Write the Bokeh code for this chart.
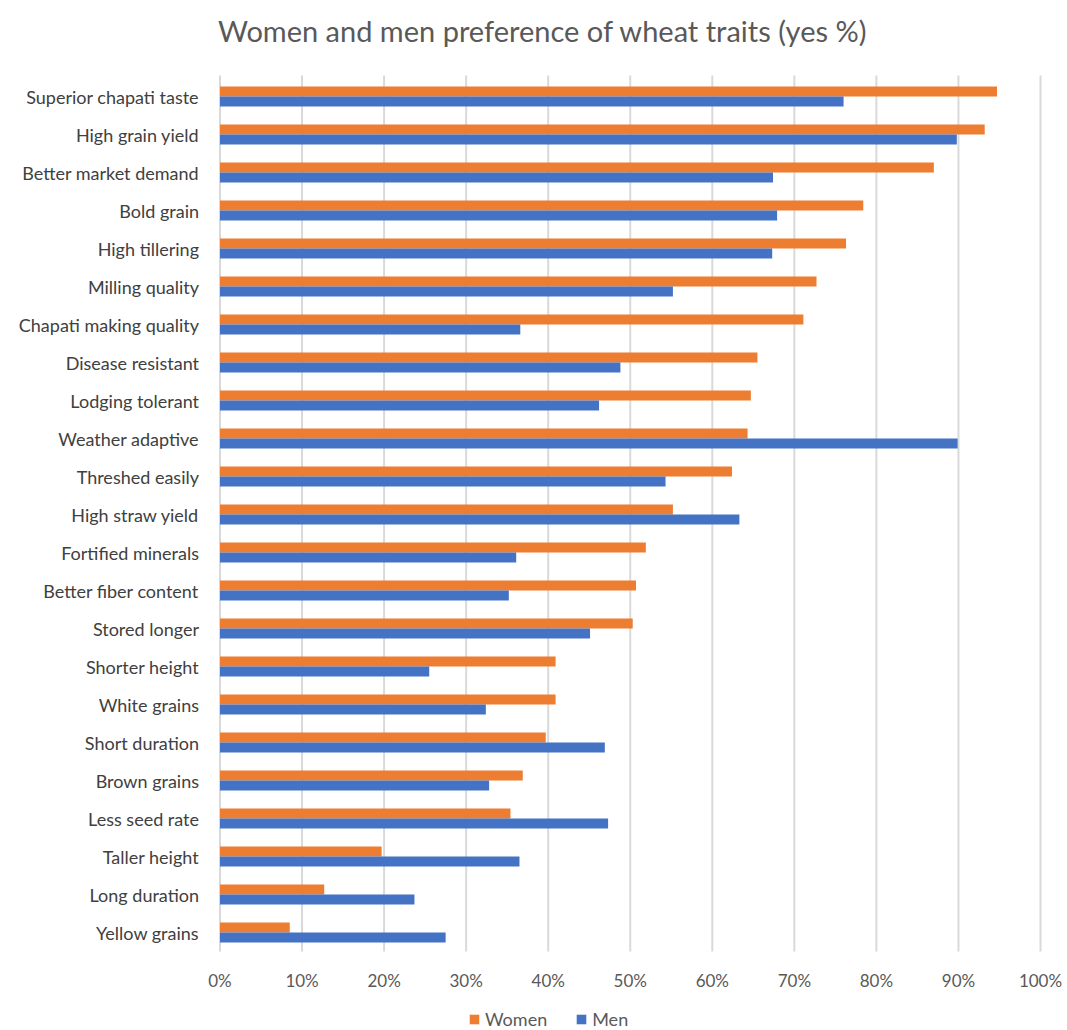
from bokeh.plotting import figure
from bokeh.models import Range1d, ColumnDataSource, Legend, LegendItem
from bokeh.core.properties import value
from bokeh.transform import dodge
from bokeh.embed import file_html
from bokeh.resources import INLINE

title_text = "Women and men preference of wheat traits (yes %)"
traits = ["Superior chapati taste", "High grain yield", "Better market demand", "Bold grain",
          "High tillering", "Milling quality", "Chapati making quality", "Disease resistant",
          "Lodging tolerant", "Weather adaptive", "Threshed easily", "High straw yield",
          "Fortified minerals", "Better fiber content", "Stored longer", "Shorter height",
          "White grains", "Short duration", "Brown grains", "Less seed rate", "Taller height",
          "Long duration", "Yellow grains"]
women = [0.947, 0.932, 0.870, 0.784, 0.763, 0.727, 0.711, 0.655, 0.647, 0.643, 0.624, 0.552,
         0.519, 0.507, 0.503, 0.409, 0.409, 0.397, 0.369, 0.354, 0.197, 0.127, 0.085]
men = [0.760, 0.898, 0.674, 0.679, 0.673, 0.552, 0.366, 0.488, 0.462, 0.899, 0.543, 0.633,
       0.361, 0.352, 0.451, 0.255, 0.324, 0.469, 0.328, 0.473, 0.365, 0.237, 0.275]
x_ticks = [0, 0.1, 0.2, 0.3, 0.4, 0.5, 0.6, 0.7, 0.8, 0.9, 1.0]
x_tick_labels = ["0%", "10%", "20%", "30%", "40%", "50%", "60%", "70%", "80%", "90%", "100%"]

n = len(traits)
ypos = [n - 1 - i for i in range(n)]          # top row first
src = ColumnDataSource(dict(trait=traits, women=women, men=men, y=ypos))

FONT = "Lato"
W, H = 1067, 1030
ROW_PX = 38.0            # height of one category band in pixels
TOP_PX, BOT_PX = 77, 79  # space above / below the band area
LEFT_PX, RIGHT_PX = 219.5, 27
UNIT_PX = (W - LEFT_PX - RIGHT_PX)  # pixels for 100 %
y_top = (n - 0.5) + TOP_PX / ROW_PX
y_bot = -0.5 - BOT_PX / ROW_PX
x_start = -LEFT_PX / UNIT_PX
x_end = 1.0 + RIGHT_PX / UNIT_PX

p = figure(width=W, height=H, x_range=Range1d(x_start, x_end), y_range=Range1d(y_bot, y_top),
           output_backend="svg", toolbar_location=None, x_axis_location=None, y_axis_location=None,
           min_border_left=0, min_border_right=0, min_border_top=0, min_border_bottom=0)
p.title.visible = False

# vertical gridlines over the band area only
grid_src = ColumnDataSource(dict(x=x_ticks))
p.segment(x0="x", x1="x", y0=-0.5, y1=n - 0.5 + 2 / ROW_PX, source=grid_src,
          line_color="#d9d9d9", line_width=2)

rw = p.hbar(y=dodge("y", 0.13), right="women", left=0, height=0.26,
            source=src, color="#ED7D31", line_color=None)
rm = p.hbar(y=dodge("y", -0.13), right="men", left=0, height=0.26,
            source=src, color="#4472C4", line_color=None)

# category labels
p.text(x=0, y="y", text="trait", source=src, x_offset=-21, text_align="right",
       text_baseline="middle", text_font=value(FONT), text_font_size=value("18px"),
       text_color="#404040")

# x tick labels
tick_src = ColumnDataSource(dict(x=x_ticks, t=x_tick_labels))
p.text(x="x", y=-0.5 - 29 / ROW_PX, text="t", source=tick_src, text_align="center",
       text_baseline="middle", text_font=value(FONT), text_font_size=value("17px"),
       text_color="#595959")

# title
p.text(x=[0], y=[n - 0.5 + (TOP_PX - 30) / ROW_PX], text=[title_text], x_offset=-2,
       text_align="left", text_baseline="middle", text_font=value(FONT),
       text_font_size=value("29px"), text_color="#595959")

p.xgrid.visible = False
p.ygrid.visible = False
p.outline_line_color = None

legend = Legend(items=[LegendItem(label="Women", renderers=[rw]), LegendItem(label="Men", renderers=[rm])],
                orientation="horizontal", location=(468, 0), glyph_width=12, glyph_height=12,
                label_text_font=FONT, label_text_font_size="18px", label_text_color="#595959",
                border_line_color=None, background_fill_alpha=0, spacing=28, padding=0, margin=0,
                label_standoff=5)
p.add_layout(legend, "center")

open("out.html", "w").write(file_html(p, INLINE))
